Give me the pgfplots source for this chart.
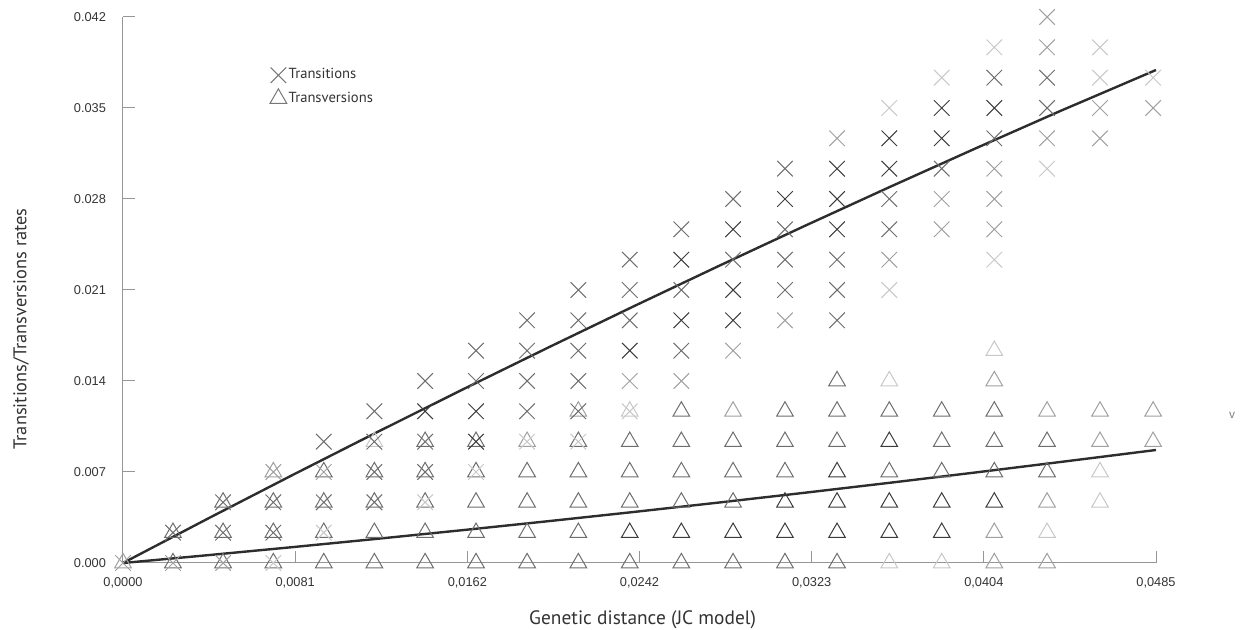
\documentclass[border=0pt]{standalone}
\usepackage{pgfplots}
\pgfplotsset{compat=1.18}
\usepackage{pgfplotstable}
\usepackage{fontspec}
\setmainfont{PT Sans}
\newfontfamily\tickfont{Liberation Sans}
\definecolor{axgray}{RGB}{150,150,150}
\definecolor{txtgray}{RGB}{51,51,51}
\definecolor{linecol}{RGB}{45,45,45}
\definecolor{leggray}{RGB}{120,120,120}
\pgfplotsset{colormap={markgray}{rgb255(0pt)=(200,200,200) rgb255(1pt)=(160,160,160) rgb255(2pt)=(110,110,110) rgb255(3pt)=(60,60,60)}}

% transitions: x y c (c = darkness 1..4)
\pgfplotstableread{
x y c
0 0 2
0.002346 0.002333 3
0.002346 0 2
0.004699 0.004667 3
0.004699 0.002333 3
0.004699 0 2
0.007059 0.007 2
0.007059 0.004667 3
0.007059 0.002333 3
0.007059 0 1
0.009427 0.009333 3
0.009427 0.007 2
0.009427 0.004667 3
0.009427 0.002333 1
0.011802 0.011667 3
0.011802 0.009333 3
0.011802 0.007 3
0.011802 0.004667 3
0.014185 0.014 3
0.014185 0.011667 4
0.014185 0.009333 3
0.014185 0.007 3
0.014185 0.004667 1
0.016575 0.016333 3
0.016575 0.014 3
0.016575 0.011667 4
0.016575 0.009333 4
0.016575 0.007 1
0.018973 0.018667 3
0.018973 0.016333 3
0.018973 0.014 3
0.018973 0.011667 3
0.018973 0.009333 1
0.021379 0.021 3
0.021379 0.018667 3
0.021379 0.016333 3
0.021379 0.014 3
0.021379 0.011667 3
0.021379 0.009333 1
0.023792 0.023333 3
0.023792 0.021 3
0.023792 0.018667 3
0.023792 0.016333 4
0.023792 0.014 2
0.023792 0.011667 1
0.026214 0.025667 3
0.026214 0.023333 4
0.026214 0.021 3
0.026214 0.018667 4
0.026214 0.016333 3
0.026214 0.014 2
0.028643 0.028 3
0.028643 0.025667 4
0.028643 0.023333 3
0.028643 0.021 4
0.028643 0.018667 4
0.028643 0.016333 2
0.031080 0.030333 3
0.031080 0.028 4
0.031080 0.025667 3
0.031080 0.023333 3
0.031080 0.021 3
0.031080 0.018667 2
0.033525 0.032667 2
0.033525 0.030333 4
0.033525 0.028 4
0.033525 0.025667 4
0.033525 0.023333 3
0.033525 0.021 3
0.033525 0.018667 3
0.035978 0.035 1
0.035978 0.032667 4
0.035978 0.030333 4
0.035978 0.028 3
0.035978 0.025667 3
0.035978 0.023333 2
0.035978 0.021 1
0.038439 0.037333 1
0.038439 0.035 4
0.038439 0.032667 4
0.038439 0.030333 3
0.038439 0.028 2
0.038439 0.025667 2
0.040908 0.039667 1
0.040908 0.037333 3
0.040908 0.035 4
0.040908 0.032667 3
0.040908 0.030333 2
0.040908 0.028 2
0.040908 0.025667 2
0.040908 0.023333 1
0.043385 0.042 2
0.043385 0.039667 2
0.043385 0.037333 3
0.043385 0.035 3
0.043385 0.032667 2
0.043385 0.030333 1
0.045871 0.039667 1
0.045871 0.037333 1
0.045871 0.035 2
0.045871 0.032667 2
0.048365 0.037333 1
0.048365 0.035 2
}\transitions

% transversions: x y c
\pgfplotstableread{
x y c
0 0 2
0.002346 0.002333 3
0.002346 0 3
0.004699 0.004667 3
0.004699 0.002333 3
0.004699 0 3
0.007059 0.007 2
0.007059 0.004667 3
0.007059 0.002333 3
0.007059 0 3
0.009427 0.007 3
0.009427 0.004667 3
0.009427 0.002333 3
0.009427 0 3
0.011802 0.009333 1
0.011802 0.007 3
0.011802 0.004667 3
0.011802 0.002333 3
0.011802 0 3
0.014185 0.009333 3
0.014185 0.007 3
0.014185 0.004667 3
0.014185 0.002333 3
0.014185 0 3
0.016575 0.009333 3
0.016575 0.007 3
0.016575 0.004667 3
0.016575 0.002333 3
0.016575 0 3
0.018973 0.009333 2
0.018973 0.007 3
0.018973 0.004667 3
0.018973 0.002333 3
0.018973 0 3
0.021379 0.011667 2
0.021379 0.009333 3
0.021379 0.007 3
0.021379 0.004667 3
0.021379 0.002333 3
0.021379 0 3
0.023792 0.011667 1
0.023792 0.009333 3
0.023792 0.007 3
0.023792 0.004667 3
0.023792 0.002333 4
0.023792 0 3
0.026214 0.011667 3
0.026214 0.009333 3
0.026214 0.007 3
0.026214 0.004667 3
0.026214 0.002333 4
0.026214 0 3
0.028643 0.011667 2
0.028643 0.009333 3
0.028643 0.007 3
0.028643 0.004667 3
0.028643 0.002333 4
0.028643 0 3
0.031080 0.011667 3
0.031080 0.009333 3
0.031080 0.007 3
0.031080 0.004667 4
0.031080 0.002333 4
0.031080 0 3
0.033525 0.014 3
0.033525 0.011667 3
0.033525 0.009333 3
0.033525 0.007 4
0.033525 0.004667 4
0.033525 0.002333 4
0.033525 0 3
0.035978 0.014 1
0.035978 0.011667 3
0.035978 0.009333 4
0.035978 0.007 3
0.035978 0.004667 4
0.035978 0.002333 4
0.035978 0 1
0.038439 0.011667 3
0.038439 0.009333 3
0.038439 0.007 3
0.038439 0.004667 4
0.038439 0.002333 4
0.038439 0 1
0.040908 0.016333 1
0.040908 0.014 2
0.040908 0.011667 3
0.040908 0.009333 3
0.040908 0.007 3
0.040908 0.004667 4
0.040908 0.002333 2
0.040908 0 2
0.043385 0.011667 2
0.043385 0.009333 3
0.043385 0.007 3
0.043385 0.004667 2
0.043385 0.002333 1
0.043385 0 2
0.045871 0.011667 2
0.045871 0.009333 2
0.045871 0.007 1
0.045871 0.004667 1
0.048365 0.011667 2
0.048365 0.009333 2
}\transversions

\begin{document}
\begin{tikzpicture}
\begin{axis}[
  scale only axis, width=516.5pt, height=273pt,
  xmin=0, xmax=0.0485, ymin=0, ymax=0.042,
  axis x line=bottom, axis y line=left,
  axis line style={draw=axgray, line width=0.5pt, -},
  tick align=inside, major tick length=6pt,
  tick style={draw=axgray, line width=0.5pt},
  xtick={0,0.0080833,0.0161667,0.02425,0.0323333,0.0404167,0.0485},
  xticklabels={{0,0000},{0,0081},{0,0162},{0,0242},{0,0323},{0,0404},{0,0485}},
  ytick={0,0.007,0.014,0.021,0.028,0.035,0.042},
  yticklabels={0.000,0.007,0.014,0.021,0.028,0.035,0.042},
  scaled ticks=false,
  ticklabel style={font=\tickfont\fontsize{6.4}{7}\selectfont, text=txtgray},
  xticklabel style={anchor=north, yshift=-4pt},
  yticklabel style={anchor=east, xshift=-5pt},
  xlabel={Genetic distance (JC model)},
  ylabel={Transitions/Transversions rates},
  xlabel style={font=\fontsize{9.7}{11}\selectfont, text=txtgray,
    at={(axis description cs:0.503,-0.104)}, anchor=center},
  ylabel style={font=\fontsize{9.2}{11}\selectfont, text=txtgray,
    at={(axis description cs:-0.0987,0.4286)}, anchor=center},
  clip=false,
  colormap name=markgray,
  point meta min=1, point meta max=4,
  legend style={at={(axis description cs:0.142,0.91)}, anchor=north west,
    draw=none, fill=none, font=\fontsize{7.3}{8}\selectfont, text=txtgray,
    row sep=2.5pt, inner sep=0pt, nodes={inner sep=1pt}},
  legend cell align=left,
  legend image code/.code={\draw[#1] plot coordinates {(0.15cm,0cm)};},
]
\addlegendimage{only marks, mark=x, mark size=5.5pt, draw=leggray, line width=0.5pt}
\addlegendentry{Transitions}
\addlegendimage{only marks, mark=triangle, mark size=4.8pt, draw=leggray, line width=0.5pt}
\addlegendentry{Transversions}

\addplot[forget plot, scatter, only marks, mark=triangle, mark size=4.8pt, line width=0.5pt,
  point meta=explicit, scatter/use mapped color={draw=mapped color}]
  table[x=x, y=y, meta=c] {\transversions};
\addplot[forget plot, scatter, only marks, mark=x, mark size=5.5pt, line width=0.5pt,
  point meta=explicit, scatter/use mapped color={draw=mapped color}]
  table[x=x, y=y, meta=c] {\transitions};

\addplot[forget plot, linecol, line width=1.2pt] coordinates {
(0,0) (0.004,0.003427) (0.008,0.006801) (0.012,0.010122) (0.016,0.013389)
(0.020,0.016602) (0.024,0.019763) (0.028,0.022870) (0.032,0.025924)
(0.036,0.028924) (0.040,0.031871) (0.044,0.034765) (0.0485,0.037922)};
\addplot[forget plot, linecol, line width=1.2pt] coordinates {
(0,0) (0.004,0.000603) (0.008,0.001227) (0.012,0.001871) (0.016,0.002536)
(0.020,0.003222) (0.024,0.003928) (0.028,0.004655) (0.032,0.005402)
(0.036,0.006170) (0.040,0.006958) (0.044,0.007767) (0.0485,0.008692)};

\node[font=\tickfont\fontsize{6}{6}\selectfont, text=gray] at (axis cs:0.05207,0.01138) {v};
\end{axis}
\pgfresetboundingbox
\useasboundingbox (-61.5pt,-33.5pt) rectangle (559.5pt,281.5pt);
\end{tikzpicture}
\end{document}
